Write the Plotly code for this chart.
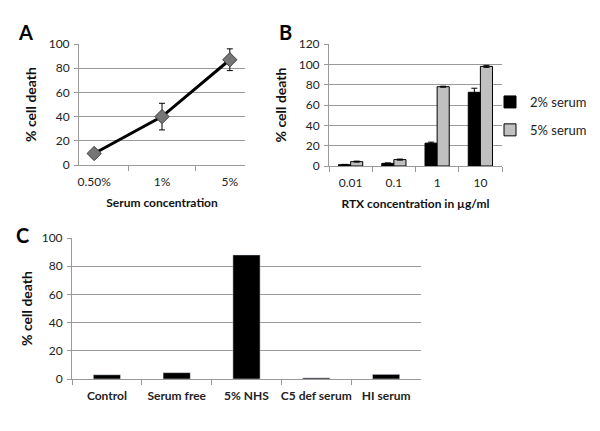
import plotly.graph_objects as go

# Panel A
a_cats = ["0.50%", "1%", "5%"]
a_vals = [9.5, 40, 87]
a_err = [1.5, 11, 9]

# Panel B
b_cats = ["0.01", "0.1", "1", "10"]
b_2pct = [1.3, 2.6, 22.5, 72.5]
b_2pct_err = [0.3, 0.5, 1, 4]
b_5pct = [4.3, 6.3, 78, 98]
b_5pct_err = [0.5, 0.5, 0.5, 1]

# Panel C
c_cats = ["Control", "Serum free", "5% NHS", "C5 def serum", "HI serum"]
c_vals = [3, 4.5, 88, 0.8, 3.3]

FONT = "Lato, 'Liberation Sans', sans-serif"
GRID = "#9a9a9a"
OFF = 8          # page body margin
W, H = 600 - OFF, 431 - OFF

def px(x):
    return (x - OFF) / W

def py(y):
    return 1 - (y - OFF) / H

fig = go.Figure()

fig.add_trace(go.Scatter(
    x=a_cats, y=a_vals, mode="lines+markers",
    line=dict(color="black", width=3),
    marker=dict(symbol="diamond", size=11, color="#767676", line=dict(color="#404040", width=1)),
    error_y=dict(type="data", array=a_err, color="black", thickness=1, width=3),
    xaxis="x", yaxis="y", showlegend=False))

fig.add_trace(go.Bar(
    x=b_cats, y=b_2pct, name="2% serum", legendgroup="g1",
    marker=dict(color="black", line=dict(color="black", width=1)),
    error_y=dict(type="data", array=b_2pct_err, color="black", thickness=1, width=3),
    xaxis="x2", yaxis="y2"))
fig.add_trace(go.Bar(
    x=b_cats, y=b_5pct, name="5% serum", legendgroup="g2",
    marker=dict(color="#c0c0c0", line=dict(color="black", width=1)),
    error_y=dict(type="data", array=b_5pct_err, color="black", thickness=1, width=3),
    xaxis="x2", yaxis="y2"))

fig.add_trace(go.Bar(
    x=c_cats, y=c_vals, marker=dict(color="black"),
    width=0.39, xaxis="x3", yaxis="y3", showlegend=False))

tickfont = dict(family=FONT, size=12, color="#222")
titlefont = dict(family=FONT, size=12, color="#111", weight="bold")
ytitlefont = dict(family=FONT, size=14, color="#111", weight="bold")

def xax(domain, anchor, title, bold_ticks=False):
    tf = dict(tickfont)
    if bold_ticks:
        tf["weight"] = "bold"
    d = dict(domain=domain, anchor=anchor, type="category", tickangle=0,
             showline=True, linecolor=GRID, linewidth=1,
             ticks="outside", tickson="boundaries", ticklen=5, tickcolor=GRID,
             ticklabelstandoff=6,
             showgrid=False, tickfont=tf, automargin=False)
    if title:
        d["title"] = dict(text=title, font=titlefont, standoff=10)
    return d

def yax(domain, anchor, rng, dtick, standoff=8):
    return dict(domain=domain, anchor=anchor, range=rng, dtick=dtick,
                showline=True, linecolor=GRID, linewidth=1,
                ticks="outside", ticklen=4, tickcolor=GRID, ticklabelstandoff=2,
                showgrid=True, gridcolor=GRID, gridwidth=1,
                zeroline=False, tickfont=tickfont, automargin=False,
                title=dict(text="% cell death", font=ytitlefont, standoff=standoff))

fig.update_layout(
    width=W, height=H,
    margin=dict(l=0, r=0, t=0, b=0, autoexpand=False),
    paper_bgcolor="white", plot_bgcolor="white",
    barmode="group", bargap=0.44, bargroupgap=0.0,
    xaxis=xax([px(79), px(245)], "y", "Serum concentration"),
    yaxis=yax([py(165), py(44)], "x", [0, 100], 20),
    xaxis2=xax([px(329), px(502)], "y2", "RTX concentration in µg/ml"),
    yaxis2=yax([py(166), py(44)], "x2", [0, 120], 20),
    xaxis3=xax([px(72), px(421)], "y3", None, bold_ticks=True),
    yaxis3=yax([py(379), py(238)], "x3", [0, 100], 20, standoff=5),
    legend=dict(x=px(490), y=py(87), xanchor="left", yanchor="top",
                font=dict(family=FONT, size=13, color="#222"),
                tracegroupgap=8, itemwidth=30, bgcolor="rgba(0,0,0,0)"),
    font=dict(family=FONT),
)

for letter, x, y in [("A", 25, 32), ("B", 285, 32), ("C", 22, 235)]:
    fig.add_annotation(text=letter, x=px(x), y=py(y), xref="paper", yref="paper",
                       showarrow=False, xanchor="center", yanchor="middle",
                       font=dict(family=FONT, size=20, color="black", weight="bold"))

fig.write_html("out.html")
